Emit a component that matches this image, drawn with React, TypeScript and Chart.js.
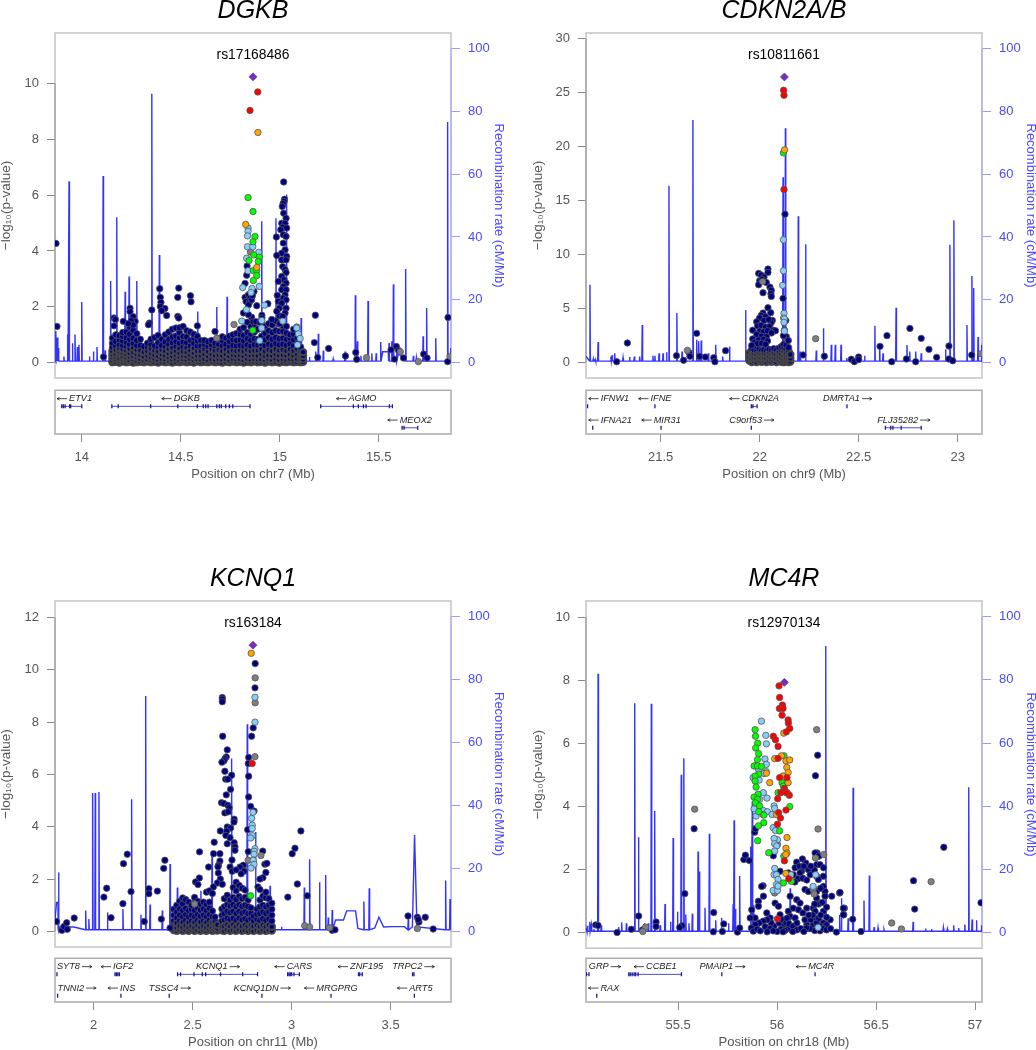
import { useEffect, useRef } from "react";
import { Chart, registerables } from "chart.js";
Chart.register(...registerables);

type P = [number, number];
type Col = [number, number[]];
type Gene = { name: string; start: number; end: number; row: number; exons: number[]; textAt: number; dir: number };

/* ---------- DGKB ---------- */
const dgkbLead: P[] = [[14.865, 10.23]];
const dgkbRed: P[] = [[14.889, 9.69], [14.85, 9.03]];
const dgkbOrange: P[] = [[14.89, 8.24], [14.828, 4.95], [14.884, 3.41]];
const dgkbGreen: P[] = [[14.84, 5.91], [14.865, 5.41], [14.875, 4.52], [14.865, 4.33], [14.869, 3.86], [14.897, 3.78], [14.845, 3.66], [14.892, 3.62], [14.867, 3.3], [14.884, 3.3], [14.884, 3.12], [14.867, 2.94], [14.864, 1.16]];
const dgkbSky: P[] = [[14.84, 4.82], [14.84, 4.7], [14.837, 4.54], [14.837, 4.15], [14.864, 4.15], [14.894, 3.95], [14.833, 3.74], [14.84, 3.29], [14.897, 2.73], [14.813, 2.69], [14.86, 2.66], [14.855, 2.51], [14.832, 1.9], [14.923, 2.06], [14.808, 1.49], [14.909, 1.51], [14.909, 1.24], [15.015, 1.49], [15.086, 1.24], [15.094, 1.03], [15.103, 0.87], [15.09, 0.64], [14.899, 0.79]];
const dgkbGrey: P[] = [[14.852, 3.96], [14.769, 1.37], [14.682, 0.88], [15.438, 0.18], [15.609, 0.39], [15.7, 0.04], [15.86, 0.23], [15.086, 1.28]];
const dgkbNavy: P[] = [[13.87, 4.27], [13.875, 1.3], [14.11, 0.21], [15.18, 1.7], [15.175, 0.72], [15.192, 0.19], [15.247, 0.51], [15.332, 0.24], [15.384, 0.37], [15.389, 0.12], [15.562, 0.46], [15.579, 0.13], [15.589, 0.58], [15.6, 0.44], [15.625, 0.17], [15.727, 0.31], [15.744, 0.17], [15.85, 1.62], [15.848, 0.04],
  [15.02, 6.47], [15.024, 5.85], [15.022, 5.77], [15.017, 5.69], [15.013, 5.59], [15.02, 5.35], [15.032, 5.17], [15.01, 4.99], [15.027, 4.99], [15.015, 4.85], [15.035, 4.82], [15.005, 4.76], [14.983, 4.5], [15.018, 4.58], [15.032, 4.52], [15.018, 4.28], [15.027, 4.04], [15.01, 3.92], [14.985, 3.84], [15.035, 3.8], [15.01, 3.68], [15.032, 3.68], [15.015, 3.44], [15.027, 3.33], [15.032, 3.23], [15.01, 3.09], [15.022, 2.97], [14.993, 2.91], [15.032, 2.85], [15.018, 2.73], [15.01, 2.61], [15.032, 2.61], [14.988, 2.41], [15.027, 2.43], [15.018, 2.31], [14.993, 2.19], [15.032, 2.25], [15.01, 2.13], [15.032, 1.95], [14.998, 1.95], [14.985, 1.84], [15.027, 1.78], [15.015, 1.66],
  [14.825, 2.34], [14.842, 2.43], [14.85, 2.31], [14.83, 2.19], [14.846, 2.15], [14.858, 2.25], [14.842, 2.07], [14.817, 1.78], [14.858, 1.63], [14.866, 1.47], [14.88, 1.47], [14.842, 1.72], [14.884, 2.04], [14.94, 2.11], [14.835, 3.46], [14.833, 3.13], [14.825, 2.84], [14.87, 2.55], [14.862, 2.4],
  [14.394, 2.65], [14.49, 2.67], [14.485, 2.34], [14.549, 2.4], [14.552, 2.18], [14.354, 1.89], [14.397, 2.34], [14.4, 2.16], [14.397, 2.01], [14.42, 1.94], [14.404, 1.86], [14.429, 1.69], [14.244, 1.95], [14.244, 1.83], [14.26, 1.65], [14.163, 1.6], [14.17, 1.55], [14.163, 1.32], [14.21, 1.48], [14.27, 1.48], [14.25, 1.5], [14.342, 1.42], [14.337, 1.36], [14.485, 1.66], [14.49, 1.6], [14.584, 1.32], [14.673, 1.12], [14.26, 1.35], [14.235, 1.4], [14.91, 1.7], [14.91, 1.6], [14.96, 1.55], [14.9, 1.45], [15.0, 1.4]];
const dgkbCloud: Col[] = [
  [14.155, [.02, .1, .2, .3, .42, .55, .7, .88]], [14.172, [.03, .12, .22, .33, .46, .6, .76, 1.0]], [14.19, [.01, .09, .18, .3, .4, .52, .66, .82, .97]], [14.207, [.04, .14, .24, .36, .48, .62, .78, .94, 1.08]], [14.225, [.02, .11, .2, .31, .44, .58, .74, .9, 1.1]], [14.242, [.03, .1, .22, .35, .5, .66, .84, 1.02, 1.28]], [14.26, [.01, .12, .24, .38, .54, .7, .88, 1.16]], [14.278, [.02, .09, .2, .32, .46, .62, .8, 1.04]], [14.296, [.03, .14, .28, .44, .62, .84]], [14.314, [.02, .1, .22, .38, .58]],
  [14.332, [.04, .12, .26, .42, .56, .7]], [14.35, [.02, .1, .2, .34, .5, .66, .84]], [14.368, [.03, .14, .28, .44, .6, .9]], [14.386, [.01, .11, .24, .4, .56, .72, .98]], [14.404, [.04, .15, .3, .46, .62, .84]], [14.422, [.02, .12, .26, .42, .58, .74, 1.0]], [14.44, [.03, .1, .2, .34, .5, .66, .84, 1.1]], [14.458, [.01, .12, .24, .38, .54, .72, .92, 1.2]], [14.476, [.03, .14, .28, .42, .58, .76, .96, 1.24]], [14.494, [.02, .1, .22, .36, .52, .7, .9, 1.08, 1.25]], [14.512, [.04, .13, .26, .4, .56, .74, .94, 1.3]], [14.53, [.02, .11, .24, .38, .54, .72, .92, 1.15]], [14.548, [.03, .14, .28, .44, .6, .8, 1.1]], [14.566, [.01, .1, .22, .36, .52, .7, .88, 1.02]], [14.584, [.04, .13, .26, .42, .6, .78, .95]],
  [14.602, [.02, .12, .26, .42, .6, .8]], [14.62, [.03, .14, .3, .48, .66, .8]], [14.638, [.02, .1, .24, .4, .58, .75]], [14.656, [.04, .14, .3, .48, .64, .8]], [14.674, [.02, .11, .26, .44, .6, .7]], [14.692, [.03, .14, .28, .46, .66, .85]], [14.71, [.01, .12, .26, .42, .6, .78, .93]], [14.728, [.03, .14, .3, .48, .66, .88]], [14.746, [.02, .1, .24, .4, .58, .76, .95]], [14.764, [.04, .14, .28, .44, .62, .82, 1.0]], [14.782, [.02, .12, .26, .42, .6, .8, 1.05]], [14.8, [.03, .13, .28, .44, .62, .82, 1.02, 1.2]], [14.818, [.01, .1, .24, .4, .58, .78, .98, 1.25]], [14.836, [.03, .14, .3, .46, .64, .86, 1.08, 1.45]], [14.854, [.02, .11, .26, .42, .6, .8, 1.02, 1.3]], [14.872, [.04, .14, .28, .44, .64, .86, 1.1, 1.38]], [14.89, [.02, .12, .26, .44, .62, .84, 1.2]], [14.908, [.03, .13, .3, .48, .68, .95, 1.42]], [14.926, [.01, .1, .24, .4, .6, .82, 1.05, 1.3]], [14.944, [.04, .14, .28, .46, .66, .9, 1.14, 1.4]],
  [14.962, [.02, .11, .26, .42, .62, .84, 1.08, 1.35]], [14.98, [.03, .14, .3, .48, .68, .9, 1.15, 1.5]], [14.998, [.01, .1, .26, .44, .64, .86, 1.12, 1.38, 1.68]], [15.016, [.03, .13, .28, .46, .66, .88, 1.12, 1.32]], [15.034, [.02, .11, .26, .42, .62, .84, 1.06, 1.3]], [15.052, [.04, .14, .3, .48, .68, .88, 1.0]], [15.07, [.02, .12, .26, .42, .6, .82, 1.02, 1.2]], [15.088, [.03, .14, .3, .48, .68, .9]], [15.106, [.02, .1, .24, .4, .56]], [15.118, [.03, .12, .25, .38]]];
const dgkbRecomb: number[][] = [[13.866, 1, 0], [13.87, 10], [13.877, 8], [13.882, 4.7], [13.91, 2], [13.929, 9], [13.936, 57.7], [13.953, 6.2], [13.966, 9], [13.978, 5], [13.986, 5.7], [14.0, 19.3], [14.039, 2], [14.059, 3.6], [14.077, 5], [14.108, 59.4], [14.118, 4], [14.146, 26], [14.152, 9], [14.177, 46.3], [14.219, 22.6], [14.239, 27.4], [14.256, 9.4], [14.278, 26], [14.354, 85.6], [14.392, 34.3], [14.586, 16.3], [14.682, 17.7], [14.734, 21], [14.909, 45], [14.981, 46], [15.034, 53.5], [15.108, 14.2], [15.132, 2.5], [15.15, 1.8], [15.182, 3.6], [15.195, 9.2], [15.22, 3.9], [15.27, 1.2], [15.33, 3.6], [15.382, 21.5], [15.392, 6.8], [15.41, 2.2], [15.446, 19.6], [15.465, 3], [15.487, 3], [15.51, 6.6], [15.52, 3.5, 0], [15.548, 3.5, 0], [15.552, 6.3], [15.565, 6.8], [15.574, 25], [15.59, 5.7], [15.6, 3, 0], [15.636, 29.8], [15.675, 2.2], [15.69, 1.6], [15.724, 8.4], [15.742, 17.4], [15.788, 7.8], [15.848, 76.6], [15.864, 4.7]];
const dgkbGenes: Gene[] = [
  { name: "ETV1", start: 13.899, end: 14.0, row: 0, exons: [13.899, 13.907, 13.916, 13.939, 13.944, 14.0], textAt: 13.936, dir: -1 },
  { name: "DGKB", start: 14.152, end: 14.85, row: 0, exons: [14.152, 14.184, 14.348, 14.485, 14.584, 14.614, 14.626, 14.638, 14.682, 14.695, 14.705, 14.727, 14.746, 14.763, 14.85], textAt: 14.465, dir: -1 },
  { name: "AGMO", start: 15.207, end: 15.569, row: 0, exons: [15.207, 15.372, 15.397, 15.423, 15.436, 15.554, 15.569], textAt: 15.347, dir: -1 },
  { name: "MEOX2", start: 15.618, end: 15.697, row: 1, exons: [15.618, 15.628, 15.697], textAt: 15.606, dir: -1 }];

/* ---------- CDKN2A/B ---------- */
const cdknLead: P[] = [[22.125, 26.43]];
const cdknRed: P[] = [[22.121, 25.2], [22.123, 24.74], [22.123, 16.02]];
const cdknOrange: P[] = [[22.126, 19.69]];
const cdknGreen: P[] = [[22.12, 19.41]];
const cdknSky: P[] = [[22.12, 11.37], [22.12, 8.5], [22.116, 7.15], [22.123, 4.56], [22.121, 4.13], [22.125, 4.04], [22.123, 3.73], [22.125, 2.93]];
const cdknGrey: P[] = [[22.283, 2.22], [21.635, 1.14], [23.12, 0.83], [22.015, 7.5]];
const cdknNavy: P[] = [[21.278, 0.09], [21.332, 1.82], [21.58, 0.65], [21.616, 0.22], [21.643, 0.95], [21.648, 0.59], [21.682, 2.71], [21.697, 0.59], [21.726, 0.52], [21.768, 0.46], [21.774, 0.09], [21.828, 1.11], [22.219, 0.71], [22.327, 0.59], [22.463, 0.31], [22.478, 0.09], [22.5, 0.52], [22.5, 0.28], [22.608, 1.51], [22.643, 2.5], [22.667, 0.09], [22.741, 0.34], [22.759, 3.17], [22.788, 0.09], [22.816, 2.25], [22.855, 1.23], [22.894, 0.49], [22.956, 1.54], [22.956, 0.34], [22.975, 0.18], [23.071, 0.71],
  [22.128, 13.74], [22.118, 5.95], [22.132, 3.91], [22.125, 3.0], [22.135, 2.4], [22.145, 2.05], [22.12, 2.5],
  [22.042, 8.66], [21.995, 8.26], [22.042, 8.35], [22.008, 8.1], [22.022, 7.92], [22.034, 7.42], [22.0, 7.58], [21.995, 7.21], [22.012, 7.7], [22.052, 6.99], [22.059, 6.69], [22.057, 6.38], [22.059, 6.13], [22.017, 6.47], [22.042, 5.08], [22.056, 4.62], [22.017, 4.59], [22.008, 4.37], [22.0, 4.13], [22.03, 4.25], [21.985, 3.78], [22.064, 3.91], [22.058, 3.7], [22.022, 3.9], [22.045, 4.0], [21.99, 3.4], [22.008, 3.45], [22.03, 3.3], [22.05, 3.35], [21.965, 3.0], [22.0, 2.9], [22.02, 2.85], [22.04, 2.95], [22.07, 3.0], [22.08, 2.95], [22.06, 2.75], [21.985, 2.6], [22.01, 2.45], [22.035, 2.4], [21.965, 2.2], [21.975, 1.9], [21.995, 2.1], [22.02, 2.15], [21.99, 1.75], [22.01, 1.8], [22.04, 2.0], [21.96, 1.6], [22.03, 1.7]];
const cdknCloud: Col[] = [
  [21.948, [.2, .55, .9]], [21.96, [.05, .35, .7, 1.05, 1.3]], [21.972, [.15, .5, .85, 1.2]], [21.985, [.05, .4, .75, 1.1, 1.5]], [21.998, [.2, .55, .9, 1.25]], [22.01, [.08, .42, .8, 1.15]], [22.022, [.15, .5, .85, 1.2]], [22.035, [.05, .4, .78, 1.1]], [22.048, [.2, .6, .95, 1.25]], [22.06, [.08, .45, .82, 1.15]], [22.072, [.18, .55, .9, 1.3]], [22.085, [.05, .4, .78, 1.2]], [22.098, [.2, .58, .95, 1.35]], [22.11, [.08, .42, .8, 1.2, 1.5]], [22.122, [.05, .3, .65, 1.0, 1.4, 1.7]], [22.134, [.1, .45, .85, 1.25, 1.6]], [22.146, [.05, .35, .7, 1.05, 1.4]], [22.155, [.1, .4, .75]]];
const cdknRecomb: number[][] = [[21.124, 2, 0], [21.13, 1.5, 0], [21.143, 24.8], [21.16, 1.2], [21.17, 1], [21.184, 6.6], [21.249, 2], [21.255, 2.4], [21.268, 3], [21.31, 1.6], [21.343, 1.8], [21.367, 2], [21.394, 2], [21.407, 12], [21.461, 2.2], [21.471, 2.2], [21.492, 3], [21.512, 3], [21.53, 3.3], [21.542, 56.3], [21.582, 15.8], [21.608, 3.6], [21.663, 77.2], [21.682, 7.3], [21.692, 6.8], [21.705, 7.1], [21.741, 3], [21.778, 5.7], [21.813, 2], [21.848, 5.2], [21.929, 16.8], [22.118, 59], [22.13, 74.6], [22.195, 46.6], [22.205, 3.6], [22.232, 37.7], [22.286, 3.9], [22.322, 11], [22.362, 5.7], [22.382, 5.7], [22.411, 5.7], [22.44, 1.5], [22.53, 2.2], [22.582, 11.8], [22.606, 5.7], [22.623, 3], [22.689, 17.5], [22.744, 5.6], [22.758, 3.6], [22.788, 3.6], [22.816, 3], [22.939, 4.3], [22.961, 37.5], [22.981, 45.3], [23.047, 12], [23.072, 27.6], [23.081, 23.8], [23.103, 8.2], [23.12, 5.7]];
const cdknGenes: Gene[] = [
  { name: "IFNW1", start: 21.131, end: 21.131, row: 0, exons: [21.131], textAt: 21.197, dir: -1 },
  { name: "IFNE", start: 21.471, end: 21.471, row: 0, exons: [21.471], textAt: 21.449, dir: -1 },
  { name: "CDKN2A", start: 21.958, end: 21.987, row: 0, exons: [21.958, 21.966, 21.987], textAt: 21.909, dir: -1 },
  { name: "DMRTA1", start: 22.441, end: 22.441, row: 0, exons: [22.441], textAt: 22.32, dir: 1 },
  { name: "IFNA21", start: 21.157, end: 21.157, row: 1, exons: [21.157], textAt: 21.197, dir: -1 },
  { name: "MIR31", start: 21.502, end: 21.502, row: 1, exons: [21.502], textAt: 21.465, dir: -1 },
  { name: "C9orf53", start: 21.958, end: 21.958, row: 1, exons: [21.958], textAt: 21.847, dir: 1 },
  { name: "FLJ35282", start: 22.635, end: 22.816, row: 1, exons: [22.635, 22.662, 22.673, 22.715, 22.816], textAt: 22.594, dir: 1 }];

/* ---------- KCNQ1 ---------- */
const kcnqLead: P[] = [[2.805, 10.94]];
const kcnqRed: P[] = [[2.801, 6.42]];
const kcnqOrange: P[] = [[2.796, 10.63]];
const kcnqGreen: P[] = [[2.793, 1.36]];
const kcnqSky: P[] = [[2.815, 8.95], [2.815, 8.0], [2.805, 4.55], [2.798, 4.32], [2.801, 4.06], [2.801, 3.93], [2.801, 3.66], [2.793, 3.57], [2.815, 3.16], [2.811, 3.06], [2.81, 2.95], [2.806, 2.72], [2.81, 2.56], [2.795, 2.42]];
const kcnqGrey: P[] = [[2.816, 9.69], [2.816, 8.74], [2.815, 6.68], [2.845, 2.9], [2.781, 2.72], [3.066, 0.22], [3.091, 0.17], [3.192, 0.14], [3.635, 0.11], [2.51, 1.05]];
const kcnqNavy: P[] = [[2.816, 10.24], [2.815, 9.31], [2.806, 7.78], [2.798, 7.46], [2.783, 6.65], [2.781, 6.42], [2.783, 5.93], [2.783, 5.14], [2.793, 4.78], [2.81, 4.6], [2.778, 3.89], [2.781, 3.05], [2.854, 3.07],
  [2.65, 8.94], [2.65, 8.88], [2.65, 8.78], [2.652, 7.46], [2.675, 6.94], [2.67, 6.67], [2.663, 6.6], [2.658, 6.52], [2.648, 6.47], [2.663, 6.12], [2.697, 5.97], [2.667, 5.82], [2.678, 5.82], [2.692, 5.43], [2.67, 5.22], [2.646, 4.92], [2.658, 4.89], [2.678, 4.82], [2.685, 4.73], [2.663, 4.53], [2.68, 4.57], [2.71, 4.29], [2.709, 4.18], [2.64, 3.84], [2.675, 3.99], [2.692, 3.95], [2.672, 3.83], [2.668, 3.67], [2.689, 3.58], [2.675, 3.35], [2.71, 3.39], [2.714, 3.23], [2.714, 3.1], [2.609, 3.41], [2.535, 3.04], [2.606, 2.97], [2.638, 2.97], [2.638, 2.69], [2.631, 2.53], [2.628, 2.47], [2.581, 2.46], [2.699, 2.73], [2.689, 2.46], [2.756, 2.53], [2.74, 2.46], [2.63, 2.23], [2.534, 2.04], [2.515, 1.89], [2.527, 1.79], [2.7, 2.3], [2.72, 2.35], [2.76, 2.3], [2.745, 2.2], [2.64, 2.0], [2.625, 1.85], [2.65, 1.8], [2.605, 1.7], [2.57, 1.5], [2.585, 1.55], [2.6, 1.45], [2.865, 2.57], [2.875, 2.6], [2.87, 2.25], [2.855, 2.05], [2.84, 2.0], [2.83, 1.7], [2.84, 1.6], [2.87, 1.5],
  [1.813, 0.38], [1.84, 0.04], [1.85, 0.19], [1.864, 0.33], [1.867, 0.08], [1.902, 0.51], [2.052, 1.31], [2.066, 1.65], [2.088, 0.52], [2.151, 2.59], [2.148, 1.06], [2.17, 2.95], [2.189, 1.52], [2.256, 0.38], [2.279, 1.63], [2.279, 1.44], [2.322, 1.54], [2.342, 0.47], [2.354, 2.41], [2.36, 2.72], [2.386, 0.13],
  [2.981, 1.31], [3.003, 2.97], [3.017, 3.18], [3.029, 1.81], [3.047, 3.84], [3.079, 1.36], [3.205, 0.04], [3.219, 0.06], [3.588, 0.59], [3.635, 0.54], [3.643, 0.36], [3.64, 0.45], [3.675, 0.54], [3.715, 0.09]];
const kcnqCloud: Col[] = [
  [2.405, [.05, .2, .4, .62, .85]], [2.42, [.02, .14, .32, .52, .74, 1.0]], [2.435, [.06, .2, .4, .62, .86, 1.15]], [2.45, [.02, .15, .34, .56, .8, 1.05, 1.28]], [2.465, [.05, .22, .42, .64, .88, 1.22]], [2.48, [.02, .14, .34, .56, .8, 1.12]], [2.495, [.06, .2, .4, .62, .84, 1.0]], [2.51, [.02, .14, .34, .56, .8, 1.1, 1.3]], [2.525, [.05, .22, .42, .64, .9, 1.15]], [2.54, [.02, .16, .36, .58, .82, 1.05]], [2.555, [.05, .2, .4, .62, .86, 1.12]], [2.57, [.02, .14, .34, .56, .8, 1.02]], [2.585, [.06, .22, .42, .64, .88, 1.12]], [2.6, [.02, .15, .34, .56, .78]], [2.613, [.05, .2, .38, .55]], [2.625, [.03, .12, .25]],
  [2.648, [.04, .18, .4, .62, .86]], [2.66, [.02, .2, .44, .68, .94, 1.25]], [2.675, [.06, .26, .5, .76, 1.02, 1.38]], [2.69, [.02, .2, .46, .72, .98, 1.2]], [2.705, [.05, .26, .5, .76, 1.02, 1.3, 1.68]], [2.72, [.02, .18, .42, .68, .94, 1.22, 1.55, 1.88]], [2.735, [.06, .26, .5, .76, 1.02, 1.34, 1.76]], [2.75, [.02, .2, .44, .7, .96, 1.25, 1.65]], [2.765, [.05, .24, .48, .74, 1.0, 1.3, 1.58]], [2.78, [.02, .18, .42, .68, .95, 1.2]], [2.795, [.05, .24, .48, .7, .9]], [2.808, [.02, .2, .4, .58]],
  [2.825, [.05, .24, .46, .66, .85]], [2.84, [.02, .18, .42, .68, .94, 1.2]], [2.855, [.05, .24, .48, .74, 1.0, 1.35]], [2.87, [.02, .18, .42, .68, .94, 1.28]], [2.885, [.05, .24, .48, .74, 1.0, 1.25]], [2.9, [.03, .18, .4, .62, .85, 1.08]]];
const kcnqRecomb: number[][] = [[1.805, 3, 0], [1.806, 4.5, 0], [1.813, 9.3, 0], [1.82, 9.3, 0], [1.823, 18.8], [1.828, 1.5, 0], [1.9, 1.5, 0], [1.96, 6.7], [1.976, 4], [1.995, 44], [2.008, 44], [2.027, 44.3], [2.07, 6.1], [2.148, 7.2], [2.192, 42], [2.239, 5.4], [2.263, 74.8], [2.285, 8.6], [2.347, 6.7], [2.386, 21.5], [2.423, 14], [2.542, 13], [2.598, 25.7], [2.697, 54.9], [2.776, 65.8], [2.818, 31.6], [2.891, 14.6], [2.949, 1.6], [3.064, 14], [3.091, 23], [3.141, 15.7], [3.172, 18], [3.185, 4.5], [3.205, 6.9], [3.222, 3.7, 0], [3.262, 3.7, 0], [3.278, 6.6, 0], [3.323, 6.6, 0], [3.335, 1, 0], [3.365, 9.6], [3.392, 13.8], [3.42, 1.2, 0], [3.441, 4.6, 0], [3.465, 1.5, 0], [3.505, 1.6, 0], [3.57, 1.6, 0], [3.589, 4], [3.61, 1.5, 0], [3.621, 30.7, 0], [3.633, 1.5, 0], [3.778, 16.2], [3.8, 10.4]];
const kcnqGenes: Gene[] = [
  { name: "SYT8", start: 1.815, end: 1.815, row: 0, exons: [1.815], textAt: 1.815, dir: 1 },
  { name: "IGF2", start: 2.108, end: 2.13, row: 0, exons: [2.108, 2.115, 2.122, 2.13], textAt: 2.098, dir: -1 },
  { name: "KCNQ1", start: 2.424, end: 2.828, row: 0, exons: [2.424, 2.439, 2.507, 2.549, 2.566, 2.641, 2.753, 2.828], textAt: 2.517, dir: 1 },
  { name: "CARS", start: 2.98, end: 3.039, row: 0, exons: [2.98, 2.987, 2.993, 3.0, 3.012, 3.039], textAt: 2.975, dir: -1 },
  { name: "ZNF195", start: 3.338, end: 3.357, row: 0, exons: [3.338, 3.344, 3.357], textAt: 3.295, dir: -1 },
  { name: "TRPC2", start: 3.611, end: 3.618, row: 0, exons: [3.611, 3.618], textAt: 3.508, dir: 1 },
  { name: "TNNI2", start: 1.818, end: 1.818, row: 1, exons: [1.818], textAt: 1.818, dir: 1 },
  { name: "INS", start: 2.138, end: 2.138, row: 1, exons: [2.138], textAt: 2.133, dir: -1 },
  { name: "TSSC4", start: 2.382, end: 2.382, row: 1, exons: [2.382], textAt: 2.279, dir: 1 },
  { name: "KCNQ1DN", start: 2.85, end: 2.85, row: 1, exons: [2.85], textAt: 2.707, dir: 1 },
  { name: "MRGPRG", start: 3.199, end: 3.199, row: 1, exons: [3.199], textAt: 3.125, dir: -1 },
  { name: "ART5", start: 3.62, end: 3.62, row: 1, exons: [3.62], textAt: 3.594, dir: -1 }];

/* ---------- MC4R ---------- */
const mc4rLead: P[] = [[56.037, 7.93]];
const mc4rRed: P[] = [[56.01, 7.82], [56.013, 7.45], [56.027, 7.21], [56.012, 7.1], [56.03, 7.1], [56.025, 6.89], [56.056, 6.74], [56.057, 6.64], [56.064, 6.47], [56.047, 6.36], [55.981, 6.22], [55.992, 6.11], [56.005, 5.9], [56.005, 5.52], [56.013, 4.91], [56.05, 4.91], [56.037, 4.57], [56.034, 4.49], [56.019, 4.43], [56.062, 4.35], [56.047, 4.43], [56.003, 4.24], [56.008, 3.8], [56.045, 3.88], [56.017, 3.63], [56.002, 3.43], [56.037, 2.27], [56.059, 1.7], [56.002, 0.43]];
const mc4rOrange: P[] = [[56.034, 6.32], [55.988, 5.51], [56.022, 5.6], [56.045, 5.44], [56.064, 5.47], [56.049, 5.23], [56.056, 5.07], [55.946, 5.05], [55.963, 4.75], [56.03, 4.96], [56.056, 4.75], [55.997, 3.74], [56.05, 3.01], [56.045, 2.67], [56.05, 2.52], [56.044, 2.47], [56.044, 1.87]];
const mc4rGreen: P[] = [[55.889, 6.43], [55.891, 6.22], [55.902, 6.0], [55.892, 5.85], [55.907, 5.67], [55.901, 5.48], [55.884, 5.28], [55.901, 5.28], [55.921, 5.26], [55.907, 5.02], [55.889, 4.96], [55.889, 4.8], [55.894, 4.61], [55.904, 4.38], [55.884, 4.29], [55.901, 4.22], [55.891, 4.11], [55.912, 4.01], [55.907, 3.83], [55.933, 3.72], [55.933, 3.48], [55.906, 3.38], [55.902, 2.91], [55.958, 2.53], [56.013, 3.22], [56.035, 5.6], [56.025, 4.75], [56.032, 4.64], [56.052, 4.43], [56.005, 4.43], [56.064, 3.99], [56.034, 2.42], [56.032, 1.57], [56.072, 1.62]];
const mc4rSky: P[] = [[55.921, 6.7], [55.943, 6.25], [55.946, 5.98], [55.939, 5.5], [55.946, 5.33], [55.893, 5.28], [55.907, 5.17], [55.946, 5.1], [55.934, 5.04], [55.879, 4.91], [55.909, 4.83], [55.931, 4.43], [55.949, 4.26], [55.912, 4.22], [55.884, 3.92], [55.894, 3.69], [55.929, 3.87], [55.951, 3.83], [55.929, 3.74], [55.985, 4.01], [55.988, 3.93], [55.975, 3.74], [55.988, 3.32], [55.98, 3.32], [55.992, 3.23], [56.002, 2.94], [55.985, 2.98], [55.988, 2.81], [55.998, 2.74], [55.988, 2.58], [55.988, 2.03], [55.985, 1.83], [55.997, 1.83], [56.005, 1.68], [55.997, 1.52], [55.98, 1.33], [56.002, 1.33], [56.005, 1.47], [56.207, 0.16], [56.182, 1.46], [56.195, 1.83], [56.069, 1.83]];
const mc4rGrey: P[] = [[55.584, 3.91], [56.2, 6.43], [56.207, 3.28], [56.194, 2.36], [56.236, 2.47], [56.182, 1.36], [56.187, 1.22], [55.988, 1.25], [56.002, 2.79], [56.579, 0.3], [56.628, 0.11], [56.778, 1.61], [55.335, 0.17], [55.322, 0.03]];
const mc4rNavy: P[] = [[55.581, 3.29], [55.887, 3.18], [55.891, 3.29], [55.832, 2.31], [55.84, 2.45], [55.86, 2.28], [55.981, 2.43], [56.205, 5.62], [56.194, 4.97], [56.202, 2.52], [56.212, 2.42], [55.929, 1.48], [55.534, 1.23], [55.301, 0.52], [55.084, 0.24], [55.096, 0.22], [55.192, 0.0], [55.264, 0.1], [55.32, 0.08], [55.389, 0.33], [55.389, 0.19], [55.52, 0.21], [55.508, 0.16], [55.68, 0.63], [55.678, 0.02], [55.731, 0.27], [55.724, 0.03], [55.8, 0.01], [55.811, 0.14], [56.316, 1.25], [56.34, 0.77], [56.337, 0.56], [56.3, 0.01], [56.382, 0.42], [56.424, 0.03], [56.689, 1.64], [56.695, 0.74], [56.842, 2.7], [57.03, 0.94],
  [56.099, 2.23], [56.128, 2.33], [56.091, 2.05], [56.113, 2.1], [56.124, 1.94], [56.158, 1.99], [56.192, 2.52], [56.209, 2.42], [56.2, 2.15], [56.217, 2.15], [56.167, 1.83], [56.2, 1.78], [56.234, 1.78], [56.209, 1.68], [56.116, 1.89], [56.082, 1.83], [56.057, 1.89], [56.015, 1.94], [56.141, 1.36], [56.158, 1.3], [56.183, 1.41], [56.234, 1.46], [56.242, 1.3], [56.2, 1.09], [56.242, 1.15], [56.276, 1.15], [56.318, 1.27], [56.335, 0.77], [56.335, 0.56], [55.872, 0.72], [55.906, 0.99], [55.931, 1.15], [55.922, 1.46], [55.99, 0.93], [56.007, 0.83], [56.066, 1.15], [56.099, 1.04], [56.116, 0.93], [56.15, 0.77], [56.183, 0.77], [56.192, 0.67], [56.192, 0.46], [56.234, 0.67], [56.217, 0.35], [56.268, 0.4], [55.906, 0.83], [55.889, 0.46], [55.864, 0.46], [55.948, 0.62], [55.965, 0.46], [56.015, 0.56], [56.057, 0.67], [56.082, 0.77], [56.066, 0.51], [56.091, 0.46], [56.108, 0.72],
  [56.032, 0.24], [56.15, 0.24], [56.183, 0.24], [56.2, 0.3], [56.234, 0.3], [56.25, 0.24], [56.217, 0.2], [56.141, 0.4], [56.17, 0.4], [56.2, 0.12], [56.217, 0.05], [56.234, 0.12], [56.25, 0.08], [56.27, 0.12], [56.19, 0.06], [56.165, 0.12], [56.149, 0.14], [56.075, 0.06], [56.055, 0.12], [56.02, 0.1], [56.0, 0.03], [55.985, 0.2], [55.97, 0.3], [55.95, 0.4], [55.93, 0.36], [55.91, 0.3], [55.89, 0.25], [55.87, 0.14], [55.88, 0.04], [55.9, 0.1], [55.915, 0.05], [55.94, 0.18], [55.965, 0.12], [55.98, 0.05], [55.95, 0.02], [56.01, 0.3], [56.03, 0.4], [56.045, 0.3], [56.04, 0.06], [56.03, 0.02], [56.05, 0.45], [56.06, 0.27], [56.08, 0.2], [56.1, 0.3], [56.1, 0.08], [56.12, 0.12], [56.135, 0.03], [56.21, 0.45], [56.18, 0.55], [56.22, 0.55], [56.25, 0.48], [56.16, 0.55], [56.13, 0.62], [56.08, 0.03], [56.21, 0.9], [56.228, 0.95], [56.19, 0.9], [56.25, 0.8], [56.2, 1.3], [56.22, 1.4], [56.235, 2.05], [56.188, 1.98], [56.145, 2.2], [56.135, 2.1], [56.17, 2.1], [56.105, 1.7], [56.13, 1.72], [56.15, 1.66], [56.09, 1.6]];
const mc4rCloud: Col[] = [];
const mc4rRecomb: number[][] = [[55.036, 1.5, 0], [55.042, 2.2], [55.054, 3.5], [55.062, 2.6], [55.075, 1.2], [55.096, 81.9], [55.112, 2.2], [55.2, 1.8], [55.215, 3.3], [55.239, 3], [55.255, 1.6], [55.281, 72.6], [55.3, 30.2], [55.33, 3], [55.35, 3], [55.365, 72.4], [55.382, 38.5], [55.41, 2.4], [55.434, 9.1], [55.462, 3.5], [55.475, 30], [55.497, 6.7], [55.516, 50], [55.529, 55.2], [55.539, 5.8], [55.555, 3], [55.572, 6.1], [55.601, 25.7], [55.608, 19.4], [55.636, 7.9], [55.658, 31.3], [55.69, 4], [55.719, 4.8], [55.755, 3], [55.778, 9], [55.783, 35.6], [55.79, 7.5], [55.811, 18], [55.867, 27.3], [55.875, 41.6], [55.882, 8.8], [56.066, 14.1], [56.097, 2.4], [56.114, 2.4], [56.246, 90.7], [56.316, 5.6], [56.325, 10.9], [56.359, 4.6], [56.384, 45.9], [56.439, 10.2], [56.466, 18.1], [56.49, 1.8], [56.51, 1.6], [56.54, 1], [56.62, 1.4], [56.687, 3.5], [56.75, 1.4], [56.78, 1.2], [56.84, 1.6], [56.86, 1.2], [56.892, 2.4], [56.917, 1.5], [56.948, 2.6], [56.968, 46], [56.985, 4.2], [57.007, 4], [57.032, 2.4]];
const mc4rGenes: Gene[] = [
  { name: "GRP", start: 55.037, end: 55.05, row: 0, exons: [55.037, 55.05], textAt: 55.049, dir: 1 },
  { name: "CCBE1", start: 55.251, end: 55.517, row: 0, exons: [55.251, 55.258, 55.268, 55.278, 55.286, 55.298, 55.517], textAt: 55.338, dir: -1 },
  { name: "PMAIP1", start: 55.721, end: 55.721, row: 0, exons: [55.721], textAt: 55.608, dir: 1 },
  { name: "MC4R", start: 56.192, end: 56.192, row: 0, exons: [56.192], textAt: 56.157, dir: -1 },
  { name: "RAX", start: 55.089, end: 55.089, row: 1, exons: [55.089], textAt: 55.108, dir: -1 }];

const recombTicks = [0, 20, 40, 60, 80, 100];
const recombRange: P = [-4.86, 104.9];

const panels = [
  { title: "DGKB", snp: "rs17168486", chr: "Position on chr7 (Mb)", xMin: 13.865, xMax: 15.865, yMin: -0.547, yMax: 11.8, yTicks: [0, 2, 4, 6, 8, 10], xTicks: [14, 14.5, 15, 15.5], lead: dgkbLead, red: dgkbRed, orange: dgkbOrange, green: dgkbGreen, sky: dgkbSky, grey: dgkbGrey, navy: dgkbNavy, cloud: dgkbCloud, recomb: dgkbRecomb, genes: dgkbGenes, base: 0.5, darkBelow: 0.55, col: 0, row: 0 },
  { title: "CDKN2A/B", snp: "rs10811661", chr: "Position on chr9 (Mb)", xMin: 21.123, xMax: 23.123, yMin: -1.42, yMax: 30.5, yTicks: [0, 5, 10, 15, 20, 25, 30], xTicks: [21.5, 22, 22.5, 23], lead: cdknLead, red: cdknRed, orange: cdknOrange, green: cdknGreen, sky: cdknSky, grey: cdknGrey, navy: cdknNavy, cloud: cdknCloud, recomb: cdknRecomb, genes: cdknGenes, base: 0.5, darkBelow: 1.1, col: 1, row: 0 },
  { title: "KCNQ1", snp: "rs163184", chr: "Position on chr11 (Mb)", xMin: 1.805, xMax: 3.805, yMin: -0.597, yMax: 12.63, yTicks: [0, 2, 4, 6, 8, 10, 12], xTicks: [2, 2.5, 3, 3.5], lead: kcnqLead, red: kcnqRed, orange: kcnqOrange, green: kcnqGreen, sky: kcnqSky, grey: kcnqGrey, navy: kcnqNavy, cloud: kcnqCloud, recomb: kcnqRecomb, genes: kcnqGenes, base: 0.6, darkBelow: 0.4, col: 0, row: 1 },
  { title: "MC4R", snp: "rs12970134", chr: "Position on chr18 (Mb)", xMin: 55.035, xMax: 57.035, yMin: -0.5, yMax: 10.51, yTicks: [0, 2, 4, 6, 8, 10], xTicks: [55.5, 56, 56.5, 57], lead: mc4rLead, red: mc4rRed, orange: mc4rOrange, green: mc4rGreen, sky: mc4rSky, grey: mc4rGrey, navy: mc4rNavy, cloud: mc4rCloud, recomb: mc4rRecomb, genes: mc4rGenes, base: 0.5, darkBelow: 0, col: 1, row: 1 },
];
type Panel = (typeof panels)[number];

const FONT = "'Liberation Sans', Arial, sans-serif";
const GREY_TEXT = "#565656";
const BLUE_TEXT = "#4a4aff";
const BOX = "#c4c4c4";

const toXY = (list: P[]) => list.map(([x, y]) => ({ x, y }));
const flatten = (cols: Col[]) => cols.flatMap(([x, ys]) => ys.map((y) => ({ x, y })));
function recombLine(list: number[][], base: number) {
  const out: { x: number; y: number }[] = [];
  for (const [x, r, w] of list) {
    if (w === 0) { out.push({ x, y: r }); continue; }
    out.push({ x: x - 0.002, y: base }, { x, y: r }, { x: x + 0.002, y: base });
  }
  return out;
}
const fixedTicks = (vals: number[]) => (s: any) => { s.ticks = vals.map((value) => ({ value })); };

function buildMain(canvas: HTMLCanvasElement, p: Panel) {
  const leftW = p.col === 0 ? 55 : 68;
  const rightW = canvas.width - (p.col === 0 ? 451 : 464);
  const dot = (label: string, data: P[] | { x: number; y: number }[], color: string, extra: object = {}) => ({
    label, data: (Array.isArray(data[0]) ? toXY(data as P[]) : data), yAxisID: "y", backgroundColor: color, borderColor: "#555555", borderWidth: 0.8, pointRadius: 3.2, showLine: false, ...extra,
  });
  const isDark = (c: any) => c.raw && c.raw.y < p.darkBelow;
  const panelBox = {
    id: "panelBox",
    beforeDatasetsDraw(c: any) {
      const { ctx, chartArea: a, scales } = c;
      ctx.save();
      ctx.strokeStyle = BOX; ctx.lineWidth = 1.5;
      ctx.strokeRect(a.left, a.top, a.right - a.left, a.bottom - a.top);
      ctx.lineWidth = 1.2; ctx.strokeStyle = "#9a9a9a";
      ctx.beginPath();
      ctx.moveTo(a.left, scales.y.getPixelForValue(p.yTicks[0]));
      ctx.lineTo(a.left, scales.y.getPixelForValue(p.yTicks[p.yTicks.length - 1]));
      ctx.stroke();
      ctx.strokeStyle = "#a8a8ff";
      ctx.beginPath();
      ctx.moveTo(a.right, scales.y2.getPixelForValue(recombTicks[0]));
      ctx.lineTo(a.right, scales.y2.getPixelForValue(recombTicks[recombTicks.length - 1]));
      ctx.stroke();
      ctx.fillStyle = "#000"; ctx.font = `13.8px ${FONT}`; ctx.textAlign = "center"; ctx.textBaseline = "middle";
      ctx.fillText(p.snp, (a.left + a.right) / 2, a.top + 22.5);
      ctx.restore();
    },
  };
  const noOverhang = (s: any, w: number) => { s.width = w; s.paddingTop = 0; s.paddingBottom = 0; };
  return new Chart(canvas, {
    type: "scatter",
    data: {
      datasets: [
        dot("lead", p.lead, "#7d26cd", { pointStyle: "rectRot", pointRadius: 4 }),
        dot("r2 0.8-1.0", p.red, "#ff0000"),
        dot("r2 0.6-0.8", p.orange, "#ffa500"),
        dot("r2 0.4-0.6", p.green, "#00ff00"),
        dot("r2 0.2-0.4", p.sky, "#87cefa"),
        dot("r2 n/a", p.grey, "#7f7f7f"),
        dot("r2 0-0.2", p.navy, "#000080"),
        dot("r2 0-0.2 dense", flatten(p.cloud), "#000080", {
          pointBorderColor: (c: any) => (isDark(c) ? "#454545" : "#555555"),
          pointBorderWidth: (c: any) => (isDark(c) ? 2 : 0.8),
        }),
        { label: "Recombination rate", data: recombLine(p.recomb, p.base), yAxisID: "y2", showLine: true, pointRadius: 0, borderColor: "rgba(40,40,255,0.95)", borderWidth: 1.4, tension: 0 },
      ] as any,
    },
    plugins: [panelBox],
    options: {
      responsive: false, animation: false,
      layout: { padding: { bottom: 2, top: 0, left: 0, right: 0 } },
      plugins: {
        legend: { display: false }, tooltip: { enabled: false },
        title: { display: true, text: p.title, color: "#000", fullSize: false, font: { family: FONT, size: 25, style: "italic", weight: "normal", lineHeight: 1 }, padding: { top: 0, bottom: 9 } } as any,
      },
      scales: {
        x: { type: "linear", display: false, min: p.xMin, max: p.xMax },
        y: {
          type: "linear", position: "left", min: p.yMin, max: p.yMax,
          afterFit: (s: any) => noOverhang(s, leftW), afterBuildTicks: fixedTicks(p.yTicks),
          border: { display: false }, grid: { drawOnChartArea: false, drawTicks: true, tickLength: 8, color: "#8a8a8a" },
          ticks: { color: GREY_TEXT, padding: 8, autoSkip: false, maxRotation: 0, font: { family: FONT, size: 13 }, callback: (v: any) => String(v) },
          title: { display: true, text: "\u2212log\u2081\u2080(p-value)", color: GREY_TEXT, font: { family: FONT, size: 13.5, lineHeight: 1 }, padding: { top: p.col === 0 ? 0 : 13.5, bottom: 0 } },
        },
        y2: {
          type: "linear", position: "right", min: recombRange[0], max: recombRange[1],
          afterFit: (s: any) => noOverhang(s, rightW), afterBuildTicks: fixedTicks(recombTicks),
          border: { display: false }, grid: { drawOnChartArea: false, drawTicks: true, tickLength: 9, color: "#9a9aff" },
          ticks: { color: BLUE_TEXT, padding: 8, autoSkip: false, maxRotation: 0, font: { family: FONT, size: 13 }, callback: (v: any) => String(v) },
          title: { display: true, text: "Recombination rate (cM/Mb)", color: BLUE_TEXT, font: { family: FONT, size: 13, lineHeight: 1 }, padding: { top: p.col === 0 ? 12.5 : -1, bottom: 0 } },
        },
      },
    },
  });
}

function buildGenes(canvas: HTMLCanvasElement, p: Panel) {
  const rowY = [1.29, 0.29];
  const padL = p.col === 0 ? 55 : 68;
  const padR = canvas.width - (p.col === 0 ? 451 : 464);
  const labels = {
    id: "geneLabels",
    beforeDatasetsDraw(c: any) {
      const { ctx, chartArea: a, scales } = c;
      ctx.save();
      ctx.strokeStyle = "#ababab"; ctx.lineWidth = 1.5;
      ctx.strokeRect(a.left, a.top, a.right - a.left, a.bottom - a.top);
      ctx.font = `italic 9.2px ${FONT}`; ctx.textAlign = "left"; ctx.textBaseline = "middle";
      ctx.fillStyle = "#222"; ctx.strokeStyle = "#222"; ctx.lineWidth = 0.8;
      for (const g of p.genes) {
        const x = scales.x.getPixelForValue(g.textAt);
        const y = scales.y.getPixelForValue(rowY[g.row]) - 7.7;
        ctx.fillText(g.name, x, y);
        const w = ctx.measureText(g.name).width;
        const x0 = g.dir < 0 ? x - 2 : x + w + 12;
        const x1 = g.dir < 0 ? x - 12 : x + w + 2;
        const tip = g.dir < 0 ? x1 : x0;
        ctx.beginPath();
        ctx.moveTo(x0, y); ctx.lineTo(x1, y);
        ctx.moveTo(tip - g.dir * 2.5, y - 1.4); ctx.lineTo(tip, y); ctx.lineTo(tip - g.dir * 2.5, y + 1.4);
        ctx.stroke();
      }
      ctx.restore();
    },
  };
  return new Chart(canvas, {
    type: "scatter",
    data: {
      datasets: [
        { label: "exons", data: p.genes.flatMap((g) => g.exons.map((x) => ({ x, y: rowY[g.row] }))), pointStyle: "line", rotation: 90, pointRadius: 2, borderColor: "#1a1aa0", borderWidth: 1.3, backgroundColor: "#1a1aa0", showLine: false },
        ...p.genes.filter((g) => g.end > g.start).map((g) => ({ label: g.name, data: [{ x: g.start, y: rowY[g.row] }, { x: g.end, y: rowY[g.row] }], showLine: true, pointRadius: 0, borderColor: "#5050c8", borderWidth: 1 })),
      ] as any,
    },
    plugins: [labels],
    options: {
      responsive: false, animation: false,
      layout: { padding: { top: 4, left: padL, right: padR, bottom: 0 } },
      plugins: { legend: { display: false }, tooltip: { enabled: false }, title: { display: false } },
      scales: {
        y: { type: "linear", display: false, min: 0, max: 2.04 },
        x: {
          type: "linear", position: "bottom", min: p.xMin, max: p.xMax,
          afterFit: (s: any) => { s.height = 49; s.paddingLeft = 0; s.paddingRight = 0; }, afterBuildTicks: fixedTicks(p.xTicks),
          border: { display: false }, grid: { drawOnChartArea: false, drawTicks: true, tickLength: 8, color: "#8a8a8a" },
          ticks: { color: GREY_TEXT, padding: 8, autoSkip: false, maxRotation: 0, font: { family: FONT, size: 13 }, callback: (v: any) => String(v) },
          title: { display: true, text: p.chr, color: GREY_TEXT, font: { family: FONT, size: 13, lineHeight: 1 }, padding: { top: 0, bottom: 2.5 } },
        },
      },
    },
  });
}

function PanelView({ p }: { p: Panel }) {
  const main = useRef<HTMLCanvasElement>(null);
  const genes = useRef<HTMLCanvasElement>(null);
  useEffect(() => {
    const a = buildMain(main.current!, p);
    const b = buildGenes(genes.current!, p);
    return () => { a.destroy(); b.destroy(); };
  }, [p]);
  const left = p.col === 0 ? 0 : 518;
  const mainTop = p.row === 0 ? -1 : 567;
  const geneTop = p.row === 0 ? 385 : 953;
  const mainH = p.row === 0 ? 385 : 386;
  return (
    <>
      <canvas ref={main} width={518} height={mainH} style={{ position: "absolute", left, top: mainTop }} />
      <canvas ref={genes} width={518} height={98} style={{ position: "absolute", left, top: geneTop }} />
    </>
  );
}

export default function App() {
  return (
    <div style={{ position: "absolute", left: 0, top: 0, width: 1036, height: 1050, overflow: "hidden", background: "#fff" }}>
      {panels.map((p) => <PanelView key={p.title} p={p} />)}
    </div>
  );
}
